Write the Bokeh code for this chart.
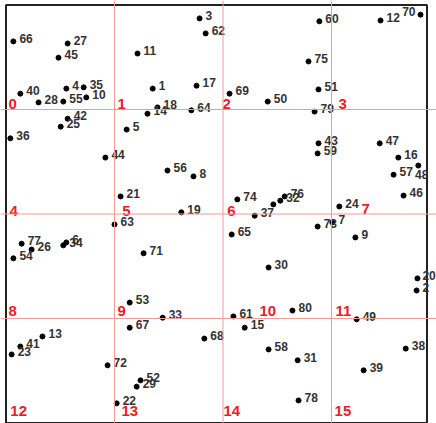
from bokeh.plotting import figure
from bokeh.models import Range1d, Span, ColumnDataSource
from bokeh.core.properties import value
from bokeh.embed import file_html
from bokeh.resources import INLINE

# point labels and positions (data units, frame 0..97 x 0..100)
point_labels = [str(i) for i in range(1, 81)]
point_x = [33.8, 94.6, 44.6, 13.9, 27.8, 13.9, 75.2, 43.2, 80.5, 18.5,
           30.3, 86.3, 8.4, 32.6, 55.0, 90.4, 43.9, 34.9, 40.4, 94.8,
           26.4, 25.5, 1.3, 76.8, 12.6, 5.9, 14.2, 7.5, 30.1, 60.5,
           67.2, 63.2, 36.1, 13.2, 17.9, 1.0, 57.3, 92.1, 82.4, 3.3,
           3.3, 14.2, 72.0, 22.9, 12.1, 91.6, 86.1, 95.0, 80.8, 60.3,
           72.0, 31.0, 28.5, 1.7, 13.2, 37.2, 89.3, 60.5, 71.8, 72.2,
           52.4, 46.0, 25.0, 42.7, 52.0, 1.7, 28.5, 45.7, 51.5, 95.5,
           31.7, 23.4, 71.8, 53.3, 69.7, 64.2, 3.6, 67.4, 71.1, 66.0]
point_y = [80.0, 31.7, 96.8, 80.0, 70.2, 43.2, 48.0, 59.0, 44.4, 77.9,
           88.4, 96.3, 20.7, 74.0, 22.8, 63.5, 80.7, 75.5, 50.4, 34.6,
           54.2, 4.7, 16.4, 51.8, 70.9, 41.5, 90.8, 76.7, 8.7, 37.2,
           15.0, 53.2, 25.2, 42.5, 80.3, 68.1, 49.6, 17.8, 12.6, 78.8,
           18.3, 72.8, 66.9, 63.5, 87.4, 54.4, 66.9, 61.6, 24.8, 76.9,
           79.8, 10.2, 28.8, 39.4, 76.9, 60.4, 59.4, 17.6, 64.5, 96.1,
           25.5, 93.2, 47.5, 74.8, 45.1, 91.3, 22.8, 20.2, 78.8, 97.7,
           40.6, 13.8, 47.0, 53.5, 86.5, 54.2, 42.9, 5.4, 74.5, 26.9]
# a dot whose label is hidden in the cluster
extra_x = [61.6]
extra_y = [52.3]

# grid cells
grid_lines = [25, 50, 75]
cell_labels = [str(i) for i in range(16)]
cell_x = [0.6, 25.7, 49.9, 76.6, 0.8, 26.8, 51.0, 81.9,
          0.6, 25.7, 58.4, 75.9, 1.0, 26.6, 50.1, 75.7]
cell_y = [75.2, 75.2, 75.2, 75.2, 49.6, 49.6, 49.6, 50.1,
          25.5, 25.5, 25.5, 25.5, 1.6, 1.6, 1.6, 1.6]

X_MAX, Y_MAX = 97, 100

p = figure(width=436, height=423, output_backend="svg", toolbar_location=None,
           x_range=Range1d(-1.27, 99.19), y_range=Range1d(-0.12, 101.08),
           min_border=0, outline_line_color=None)
p.axis.visible = False
p.xgrid.visible = False
p.ygrid.visible = False
p.background_fill_color = "white"

for g in grid_lines:
    p.add_layout(Span(location=g, dimension="height", line_color="#f29a9a", line_width=1))
    p.add_layout(Span(location=g, dimension="width", line_color="#f29a9a", line_width=1))

p.quad(left=[0], right=[X_MAX], bottom=[0], top=[Y_MAX], fill_alpha=0,
       line_color="#222222", line_width=2)

# label placement (style): default right of the dot; the two dots touching the
# right border get their label on the left / below so it stays inside the page
special = {"48": ("right", 10, 9), "70": ("right", -5, -3), "20": ("left", 5, -3)}
aligns, dxs, dys = [], [], []
for lab in point_labels:
    a, dx, dy = special.get(lab, ("left", 6, -3))
    aligns.append(a)
    dxs.append(dx)
    dys.append(dy)

src = ColumnDataSource(dict(x=point_x, y=point_y, t=point_labels,
                            align=aligns, dx=dxs, dy=dys))
p.scatter("x", "y", source=src, size=5, color="black")
p.scatter(extra_x, extra_y, size=5, color="black")
p.text("x", "y", text="t", source=src, x_offset="dx", y_offset="dy",
       text_baseline="middle", text_align="align",
       text_font=value("Liberation Sans"), text_font_style="bold",
       text_font_size="12px", text_color="#333333")

csrc = ColumnDataSource(dict(x=cell_x, y=cell_y, t=cell_labels))
p.text("x", "y", text="t", source=csrc, text_baseline="bottom", text_align="left",
       text_font=value("Liberation Sans"), text_font_style="bold",
       text_font_size="15px", text_color="#e8202a")

open("out.html", "w").write(file_html(p, INLINE))
